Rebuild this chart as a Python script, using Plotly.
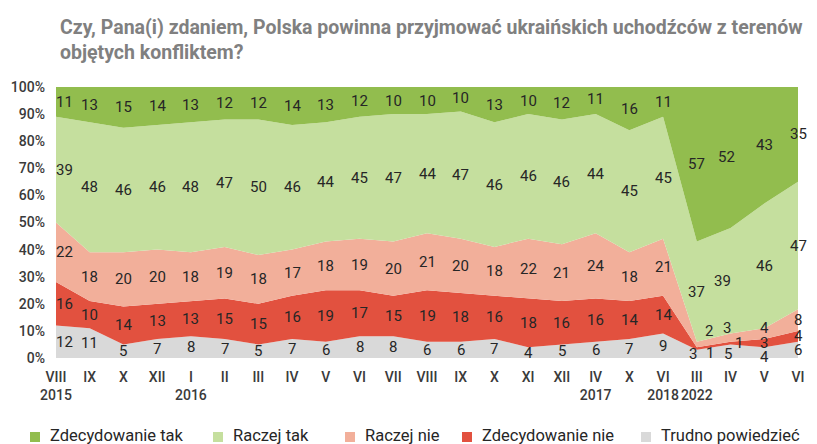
import plotly.graph_objects as go

# survey waves
months = ["VIII", "IX", "X", "XII", "I", "II", "III", "IV", "V", "VI", "VII", "VIII",
          "IX", "X", "XI", "XII", "IV", "X", "VI", "III", "IV", "V", "VI"]
years = {0: "2015", 4: "2016", 16: "2017", 18: "2018", 19: "2022"}

# answers in % (bottom to top of the stack)
trudno = [12, 11, 5, 7, 8, 7, 5, 7, 6, 8, 8, 6, 6, 7, 4, 5, 6, 7, 9, 3, 5, 4, 6]
zdec_nie = [16, 10, 14, 13, 13, 15, 15, 16, 19, 17, 15, 19, 18, 16, 18, 16, 16, 14, 14, 1, 1, 3, 4]
raczej_nie = [22, 18, 20, 20, 18, 19, 18, 17, 18, 19, 20, 21, 20, 18, 22, 21, 24, 18, 21, 2, 3, 4, 8]
raczej_tak = [39, 48, 46, 46, 48, 47, 50, 46, 44, 45, 47, 44, 47, 46, 46, 46, 44, 45, 45, 37, 39, 46, 47]
zdec_tak = [11, 13, 15, 14, 13, 12, 12, 14, 13, 12, 10, 10, 10, 13, 10, 12, 11, 16, 11, 57, 52, 43, 35]

series = [
    ("Trudno powiedzieć", trudno, "#d9d9d9"),
    ("Zdecydowanie nie", zdec_nie, "#e2513f"),
    ("Raczej nie", raczej_nie, "#f2af9a"),
    ("Raczej tak", raczej_tak, "#c5df9e"),
    ("Zdecydowanie tak", zdec_tak, "#92bd4e"),
]

# nudges (px) for crowded labels, like in the source chart
nudge = {
    ("Raczej nie", 19): (12, 13), ("Zdecydowanie nie", 19): (13, -4), ("Trudno powiedzieć", 19): (-4, 0),
    ("Raczej tak", 20): (-8, 0), ("Raczej nie", 20): (-4, 10), ("Zdecydowanie nie", 20): (8, 0),
    ("Trudno powiedzieć", 20): (-3, -3), ("Zdecydowanie tak", 20): (-4, 0),
    ("Raczej nie", 21): (0, 6), ("Trudno powiedzieć", 21): (0, -4),
}

# legend row under the chart (left edge of each key square, px)
legend_x = [30, 213, 345, 462, 641]

W, H = 817, 444
L, R, T, B = 56, 19, 87, 86
pw, ph = W - L - R, H - T - B

x = list(range(len(months)))
ticktext = [m + ("<br>" + years[i] if i in years else "") for i, m in enumerate(months)]
yticks = list(range(0, 101, 10))

fig = go.Figure()
base = [0] * len(x)
annotations = []
for name, vals, color in series:
    fig.add_trace(go.Scatter(x=x, y=vals, name=name, stackgroup="one", mode="lines",
                             line=dict(width=0, color=color), fillcolor=color,
                             showlegend=False, hoverinfo="skip"))
    for i, v in enumerate(vals):
        dx, dy = nudge.get((name, i), (0, 0))
        if i == 0:
            dx += 8
        annotations.append(dict(x=i, y=base[i] + v / 2, text=str(v), showarrow=False,
                                xshift=dx, yshift=dy,
                                font=dict(size=15, color="#262626", family="Roboto")))
    base = [b + v for b, v in zip(base, vals)]

# legend: colour square + label, in the original order
shapes = []
ly = 437
for lx, (name, vals, color) in zip(legend_x, reversed(series)):
    shapes.append(dict(type="rect", xref="paper", yref="paper", line_width=0, fillcolor=color,
                       x0=(lx - L) / pw, x1=(lx + 10 - L) / pw,
                       y0=(T + ph - ly - 5) / ph, y1=(T + ph - ly + 5) / ph))
    annotations.append(dict(xref="paper", yref="paper", x=(lx + 18 - L) / pw, y=(T + ph - ly + 2) / ph,
                            xanchor="left", yanchor="middle", text=name, showarrow=False,
                            font=dict(family="Roboto", size=16.5, color="#262626")))

tickfont = dict(family="Roboto", size=14, color="#3a3a3a", weight=500)

fig.update_layout(
    width=W, height=H,
    margin=dict(l=L, r=R, t=T, b=B, autoexpand=False),
    paper_bgcolor="white", plot_bgcolor="white", showlegend=False,
    title=dict(text="Czy, Pana(i) zdaniem, Polska powinna przyjmować ukraińskich uchodźców z terenów<br>objętych konfliktem?",
               x=60 / W, xref="container", xanchor="left", y=1 - 34 / H, yref="container", yanchor="top",
               font=dict(family="Roboto", size=19.5, color="#808080", weight="bold")),
    annotations=annotations,
    shapes=shapes,
    xaxis=dict(tickmode="array", tickvals=x, ticktext=ticktext, range=[0, len(x) - 1],
               tickangle=0, ticklabelstandoff=9, showgrid=False, zeroline=False, showline=False,
               automargin=False, tickfont=tickfont),
    yaxis=dict(range=[0, 100], tickmode="array", tickvals=yticks,
               ticktext=[f"{v}%" for v in yticks], automargin=False, ticklabelstandoff=10,
               showgrid=False, zeroline=False, showline=False, tickfont=tickfont),
)

# page body has a default 8px margin; drop it so the figure sits at the corner
fig.write_html("out.html", config={"displayModeBar": False},
               post_script="document.body.style.margin = '0';")
